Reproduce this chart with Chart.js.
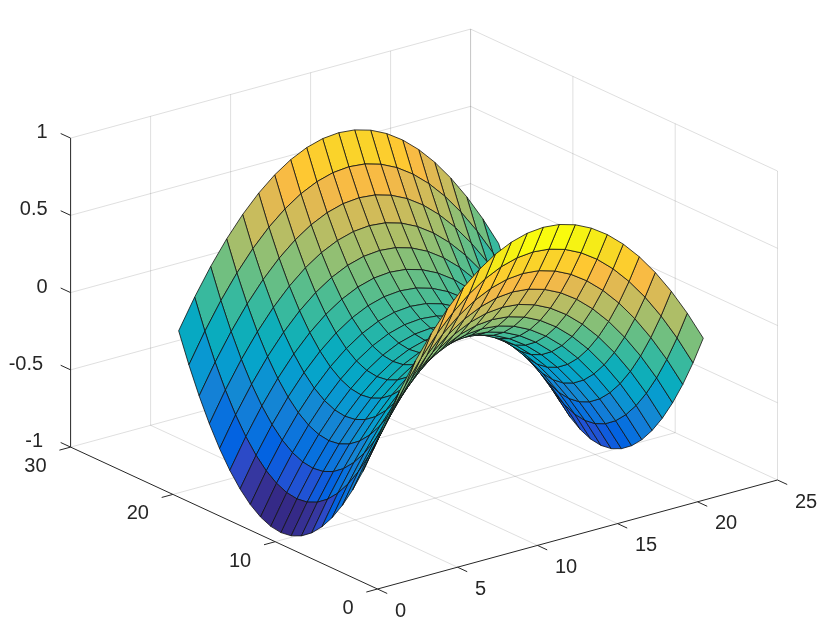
<!DOCTYPE html>
<html>
<head>
<meta charset="utf-8">
<title>Surface plot</title>
<script src="https://cdn.jsdelivr.net/npm/chart.js@4/dist/chart.umd.min.js"></script>
<style>
    html, body { margin: 0; padding: 0; background: #fff; }
    canvas { display: block; }
</style>
</head>
<body>
<canvas id="surface" width="833" height="642"></canvas>
<script>
// Axis ticks
const xTicks = [0, 5, 10, 15, 20, 25];
const yTicks = [0, 10, 20, 30];
const zTicks = [-1, -0.5, 0, 0.5, 1];

// Mesh positions
const xValues = [1, 2, 3, 4, 5, 6, 7, 8, 9, 10, 11, 12, 13, 14, 15, 16, 17, 18, 19, 20, 21];
const yValues = [1, 2, 3, 4, 5, 6, 7, 8, 9, 10, 11, 12, 13, 14, 15, 16, 17, 18, 19, 20, 21];

// Surface heights, one row per y value
const zRows = [
    [0, .19, .36, .51, .64, .75, .84, .91, .96, .99, 1, .99, .96, .91, .84, .75, .64, .51, .36, .19, 0],
    [-.19, 0, .17, .32, .45, .56, .65, .72, .77, .80, .81, .80, .77, .72, .65, .56, .45, .32, .17, 0, -.19],
    [-.36, -.17, 0, .15, .28, .39, .48, .55, .60, .63, .64, .63, .60, .55, .48, .39, .28, .15, 0, -.17, -.36],
    [-.51, -.32, -.15, 0, .13, .24, .33, .40, .45, .48, .49, .48, .45, .40, .33, .24, .13, 0, -.15, -.32, -.51],
    [-.64, -.45, -.28, -.13, 0, .11, .20, .27, .32, .35, .36, .35, .32, .27, .20, .11, 0, -.13, -.28, -.45, -.64],
    [-.75, -.56, -.39, -.24, -.11, 0, .09, .16, .21, .24, .25, .24, .21, .16, .09, 0, -.11, -.24, -.39, -.56, -.75],
    [-.84, -.65, -.48, -.33, -.20, -.09, 0, .07, .12, .15, .16, .15, .12, .07, 0, -.09, -.20, -.33, -.48, -.65, -.84],
    [-.91, -.72, -.55, -.40, -.27, -.16, -.07, 0, .05, .08, .09, .08, .05, 0, -.07, -.16, -.27, -.40, -.55, -.72, -.91],
    [-.96, -.77, -.60, -.45, -.32, -.21, -.12, -.05, 0, .03, .04, .03, 0, -.05, -.12, -.21, -.32, -.45, -.60, -.77, -.96],
    [-.99, -.80, -.63, -.48, -.35, -.24, -.15, -.08, -.03, 0, .01, 0, -.03, -.08, -.15, -.24, -.35, -.48, -.63, -.80, -.99],
    [-1, -.81, -.64, -.49, -.36, -.25, -.16, -.09, -.04, -.01, 0, -.01, -.04, -.09, -.16, -.25, -.36, -.49, -.64, -.81, -1],
    [-.99, -.80, -.63, -.48, -.35, -.24, -.15, -.08, -.03, 0, .01, 0, -.03, -.08, -.15, -.24, -.35, -.48, -.63, -.80, -.99],
    [-.96, -.77, -.60, -.45, -.32, -.21, -.12, -.05, 0, .03, .04, .03, 0, -.05, -.12, -.21, -.32, -.45, -.60, -.77, -.96],
    [-.91, -.72, -.55, -.40, -.27, -.16, -.07, 0, .05, .08, .09, .08, .05, 0, -.07, -.16, -.27, -.40, -.55, -.72, -.91],
    [-.84, -.65, -.48, -.33, -.20, -.09, 0, .07, .12, .15, .16, .15, .12, .07, 0, -.09, -.20, -.33, -.48, -.65, -.84],
    [-.75, -.56, -.39, -.24, -.11, 0, .09, .16, .21, .24, .25, .24, .21, .16, .09, 0, -.11, -.24, -.39, -.56, -.75],
    [-.64, -.45, -.28, -.13, 0, .11, .20, .27, .32, .35, .36, .35, .32, .27, .20, .11, 0, -.13, -.28, -.45, -.64],
    [-.51, -.32, -.15, 0, .13, .24, .33, .40, .45, .48, .49, .48, .45, .40, .33, .24, .13, 0, -.15, -.32, -.51],
    [-.36, -.17, 0, .15, .28, .39, .48, .55, .60, .63, .64, .63, .60, .55, .48, .39, .28, .15, 0, -.17, -.36],
    [-.19, 0, .17, .32, .45, .56, .65, .72, .77, .80, .81, .80, .77, .72, .65, .56, .45, .32, .17, 0, -.19],
    [0, .19, .36, .51, .64, .75, .84, .91, .96, .99, 1, .99, .96, .91, .84, .75, .64, .51, .36, .19, 0]
];

// Parula colormap
const parula = [
    [.2081, .1663, .5292], [.2116, .1898, .5777], [.2123, .2138, .6270], [.2081, .2386, .6771],
    [.1959, .2645, .7279], [.1707, .2919, .7792], [.1253, .3242, .8303], [.0591, .3598, .8683],
    [.0117, .3875, .8820], [.0060, .4086, .8828], [.0165, .4266, .8786], [.0329, .4430, .8720],
    [.0498, .4586, .8641], [.0629, .4737, .8554], [.0723, .4887, .8467], [.0779, .5040, .8384],
    [.0793, .5200, .8312], [.0749, .5375, .8263], [.0641, .5570, .8240], [.0488, .5772, .8228],
    [.0343, .5966, .8199], [.0265, .6137, .8135], [.0239, .6287, .8038], [.0231, .6418, .7913],
    [.0228, .6535, .7768], [.0267, .6642, .7607], [.0384, .6743, .7436], [.0590, .6838, .7254],
    [.0843, .6928, .7062], [.1133, .7015, .6859], [.1453, .7098, .6646], [.1801, .7177, .6424],
    [.2178, .7250, .6193], [.2586, .7317, .5954], [.3022, .7376, .5712], [.3482, .7424, .5473],
    [.3953, .7459, .5244], [.4420, .7481, .5033], [.4871, .7491, .4840], [.5300, .7491, .4661],
    [.5709, .7485, .4494], [.6099, .7473, .4337], [.6473, .7456, .4188], [.6834, .7435, .4044],
    [.7184, .7411, .3905], [.7525, .7384, .3768], [.7858, .7356, .3633], [.8185, .7327, .3498],
    [.8507, .7299, .3360], [.8824, .7274, .3217], [.9139, .7258, .3063], [.9450, .7261, .2886],
    [.9739, .7314, .2666], [.9938, .7455, .2403], [.9990, .7653, .2164], [.9955, .7861, .1967],
    [.9880, .8066, .1794], [.9789, .8271, .1633], [.9697, .8481, .1475], [.9626, .8705, .1309],
    [.9589, .8949, .1132], [.9598, .9218, .0948], [.9661, .9514, .0755], [.9763, .9831, .0538]
];

const AXIS_COLOR = '#262626';
const GRID_COLOR = 'rgba(38,38,38,0.15)';
const EDGE_COLOR = '#111';
const LABEL_FONT = '20px "Liberation Sans", Arial, sans-serif';

// Orthographic view of the 3D box onto the flat chart plane
function project(x, y, z) {
    return {
        x: 377.5 + 16 * x - 10.23 * y,
        y: 589 - 4.36 * x - 4.73 * y - 154.5 * (z + 1)
    };
}

// Larger means further from the viewer
function depth(x, y, z) {
    return x + 1.56 * y - 0.076 * z;
}

function colorFor(z) {
    const index = Math.min(parula.length - 1, Math.floor((z + 1) / 2 * parula.length));
    const [r, g, b] = parula[index];
    return `rgb(${Math.round(r * 255)},${Math.round(g * 255)},${Math.round(b * 255)})`;
}

function lineDataset(from, to, color) {
    return {
        data: [project(...from), project(...to)],
        showLine: true,
        fill: false,
        pointRadius: 0,
        borderColor: color,
        borderWidth: 1
    };
}

function buildFaces() {
    const faces = [];
    for (let j = 0; j < yValues.length - 1; j++) {
        for (let i = 0; i < xValues.length - 1; i++) {
            const corners = [
                [xValues[i], yValues[j], zRows[j][i]],
                [xValues[i + 1], yValues[j], zRows[j][i + 1]],
                [xValues[i + 1], yValues[j + 1], zRows[j + 1][i + 1]],
                [xValues[i], yValues[j + 1], zRows[j + 1][i]]
            ];
            const far = corners.reduce((sum, c) => sum + depth(...c), 0) / 4;
            faces.push({ corners, far, color: colorFor(zRows[j][i]) });
        }
    }
    // Chart.js paints the first dataset last, so nearest faces go first
    faces.sort((a, b) => a.far - b.far);
    return faces.map(face => ({
        data: [...face.corners, face.corners[0]].map(c => project(...c)),
        showLine: true,
        fill: 'shape',
        tension: 0,
        pointRadius: 0,
        backgroundColor: face.color,
        borderColor: EDGE_COLOR,
        borderWidth: 0.8
    }));
}

function buildAxes() {
    const xEnd = xTicks[xTicks.length - 1];
    const yEnd = yTicks[yTicks.length - 1];
    const zMin = zTicks[0];
    const zMax = zTicks[zTicks.length - 1];
    const sets = [];

    // Dark axis lines and tick marks
    sets.push(lineDataset([0, 0, zMin], [xEnd, 0, zMin], AXIS_COLOR));
    sets.push(lineDataset([0, 0, zMin], [0, yEnd, zMin], AXIS_COLOR));
    sets.push(lineDataset([0, yEnd, zMin], [0, yEnd, zMax], AXIS_COLOR));
    xTicks.forEach(x => sets.push(lineDataset([x, 0, zMin], [x, -0.95, zMin], AXIS_COLOR)));
    yTicks.forEach(y => sets.push(lineDataset([0, y, zMin], [-0.7, y, zMin], AXIS_COLOR)));
    zTicks.forEach(z => sets.push(lineDataset([0, yEnd, z], [0, yEnd + 0.97, z], AXIS_COLOR)));

    // Light grid on the floor and the two back walls
    xTicks.slice(1).forEach(x => {
        sets.push(lineDataset([x, 0, zMin], [x, yEnd, zMin], GRID_COLOR));
        sets.push(lineDataset([x, yEnd, zMin], [x, yEnd, zMax], GRID_COLOR));
    });
    yTicks.slice(1).forEach(y => {
        sets.push(lineDataset([0, y, zMin], [xEnd, y, zMin], GRID_COLOR));
    });
    yTicks.forEach(y => {
        sets.push(lineDataset([xEnd, y, zMin], [xEnd, y, zMax], GRID_COLOR));
    });
    zTicks.slice(1).forEach(z => {
        sets.push(lineDataset([0, yEnd, z], [xEnd, yEnd, z], GRID_COLOR));
        sets.push(lineDataset([xEnd, yEnd, z], [xEnd, 0, z], GRID_COLOR));
    });
    return sets;
}

// Tick labels sit at a fixed offset from their tick
const tickLabels = {
    id: 'tickLabels',
    afterDraw(chart) {
        const { ctx, scales } = chart;
        const yEnd = yTicks[yTicks.length - 1];
        const zMin = zTicks[0];
        const put = (text, at, dx, dy, align) => {
            const p = project(...at);
            ctx.textAlign = align;
            ctx.fillText(text, scales.x.getPixelForValue(p.x) + dx, scales.y.getPixelForValue(p.y) + dy);
        };
        ctx.save();
        ctx.font = LABEL_FONT;
        ctx.fillStyle = AXIS_COLOR;
        ctx.textBaseline = 'middle';
        xTicks.forEach(x => put(String(x), [x, 0, zMin], 17.5, 22, 'left'));
        yTicks.forEach(y => put(String(y), [0, y, zMin], -24, 19.5, 'right'));
        // negative labels stand a little further from the axis
        zTicks.forEach(z => put(String(z), [0, yEnd, z], z < 0 ? -27.5 : -23, -5.5, 'right'));
        ctx.restore();
    }
};

new Chart(document.getElementById('surface'), {
    type: 'scatter',
    data: { datasets: [...buildFaces(), ...buildAxes()] },
    options: {
        responsive: false,
        animation: false,
        events: [],
        layout: { padding: 0 },
        plugins: {
            legend: { display: false },
            title: { display: false },
            tooltip: { enabled: false }
        },
        scales: {
            x: { type: 'linear', display: false, min: 0, max: 833 },
            y: { type: 'linear', display: false, min: 0, max: 642, reverse: true }
        }
    },
    plugins: [tickLabels]
});
</script>
</body>
</html>
